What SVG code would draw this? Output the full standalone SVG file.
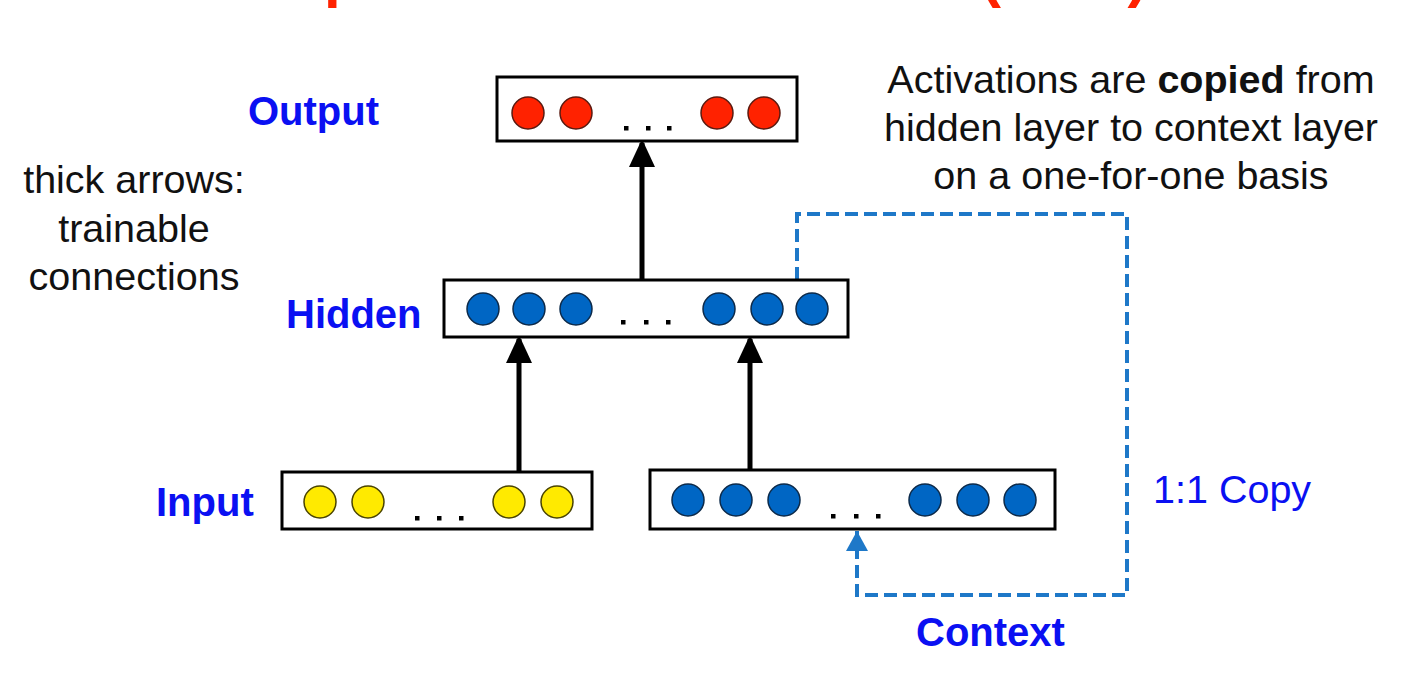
<svg xmlns="http://www.w3.org/2000/svg" width="1411" height="682" viewBox="0 0 1411 682">
<style>
.box{fill:#fff;stroke:#000;stroke-width:3}
.red{fill:#FF2200;stroke:#5a1a10;stroke-width:1.5}
.blue{fill:#0066C4;stroke:#0c2a4a;stroke-width:1.5}
.yel{fill:#FFEA00;stroke:#4a4400;stroke-width:1.5}
.dot{fill:#000}
.lbl{font-family:"Liberation Sans",Arial,sans-serif;font-weight:bold;font-size:40px;fill:#0A10F2}
.txt{font-family:"Liberation Sans",Arial,sans-serif;font-size:39.5px;fill:#111}
.arrow{stroke:#000;stroke-width:5;fill:none}
.dash{stroke:#1E78C8;stroke-width:4;fill:none;stroke-dasharray:13 6}
</style>
<defs>
<marker id="ah" markerUnits="userSpaceOnUse" markerWidth="26" markerHeight="30" refX="24" refY="13" orient="auto">
<path d="M0,0 L28,13 L0,26 Z" fill="#000"/>
</marker>
<marker id="bh" markerUnits="userSpaceOnUse" markerWidth="22" markerHeight="24" refX="20" refY="11" orient="auto">
<path d="M0,0 L20,11 L0,22 Z" fill="#1E78C8"/>
</marker>
</defs>
<rect width="1411" height="682" fill="#fff"/>
<text x="214" y="-4" style="font-family:'Liberation Sans',Arial,sans-serif;font-weight:bold;font-size:60px;fill:#FF2200">Simple Recurrent Network (SRN)</text>

<g id="connectors">
<line class="arrow" x1="642" y1="280" x2="642" y2="143" marker-end="url(#ah)"/>
<line class="arrow" x1="519" y1="472" x2="519" y2="339" marker-end="url(#ah)"/>
<line class="arrow" x1="750" y1="470" x2="750" y2="339" marker-end="url(#ah)"/>
<polyline class="dash" points="797,280 797,214 1127,214 1127,595 857,595 857,531" marker-end="url(#bh)"/>
</g>

<g id="output">
<rect class="box" x="497" y="77" width="300" height="64"/>
<circle class="red" cx="528" cy="113" r="16"/>
<circle class="red" cx="576" cy="113" r="16"/>
<circle class="red" cx="717" cy="113" r="16"/>
<circle class="red" cx="764" cy="113" r="16"/>
<rect class="dot" x="624" y="126" width="4.5" height="4.5"/>
<rect class="dot" x="646" y="126" width="4.5" height="4.5"/>
<rect class="dot" x="667" y="126" width="4.5" height="4.5"/>
<text class="lbl" x="248" y="125">Output</text>
</g>

<g id="hidden">
<rect class="box" x="444" y="280" width="404" height="57"/>
<circle class="blue" cx="483" cy="309" r="16"/>
<circle class="blue" cx="529" cy="309" r="16"/>
<circle class="blue" cx="576" cy="309" r="16"/>
<circle class="blue" cx="719" cy="309" r="16"/>
<circle class="blue" cx="767" cy="309" r="16"/>
<circle class="blue" cx="812" cy="309" r="16"/>
<rect class="dot" x="621" y="320" width="4.5" height="4.5"/>
<rect class="dot" x="644" y="320" width="4.5" height="4.5"/>
<rect class="dot" x="666" y="320" width="4.5" height="4.5"/>
<text class="lbl" x="286" y="328">Hidden</text>
</g>

<g id="input">
<rect class="box" x="282" y="472" width="310" height="57"/>
<circle class="yel" cx="320" cy="502" r="16"/>
<circle class="yel" cx="368" cy="502" r="16"/>
<circle class="yel" cx="509" cy="502" r="16"/>
<circle class="yel" cx="557" cy="502" r="16"/>
<rect class="dot" x="415" y="516" width="4.5" height="4.5"/>
<rect class="dot" x="437" y="516" width="4.5" height="4.5"/>
<rect class="dot" x="459" y="516" width="4.5" height="4.5"/>
<text class="lbl" x="156" y="516">Input</text>
</g>

<g id="context">
<rect class="box" x="650" y="470" width="405" height="59"/>
<circle class="blue" cx="688" cy="500" r="16"/>
<circle class="blue" cx="736" cy="500" r="16"/>
<circle class="blue" cx="784" cy="500" r="16"/>
<circle class="blue" cx="925" cy="500" r="16"/>
<circle class="blue" cx="973" cy="500" r="16"/>
<circle class="blue" cx="1020" cy="500" r="16"/>
<rect class="dot" x="831" y="514" width="4.5" height="4.5"/>
<rect class="dot" x="854" y="514" width="4.5" height="4.5"/>
<rect class="dot" x="876" y="514" width="4.5" height="4.5"/>
<text class="lbl" x="916" y="646">Context</text>
</g>

<g id="notes">
<text class="txt" text-anchor="middle" x="134" y="193">thick arrows:</text>
<text class="txt" text-anchor="middle" x="134" y="242">trainable</text>
<text class="txt" text-anchor="middle" x="134" y="290">connections</text>
<text class="txt" text-anchor="middle" x="1131" y="93">Activations are <tspan font-weight="bold">copied</tspan> from</text>
<text class="txt" text-anchor="middle" x="1131" y="141">hidden layer to context layer</text>
<text class="txt" text-anchor="middle" x="1131" y="189">on a one-for-one basis</text>
<text class="txt" x="1153" y="503" style="fill:#0A10F2">1:1 Copy</text>
</g>
</svg>
